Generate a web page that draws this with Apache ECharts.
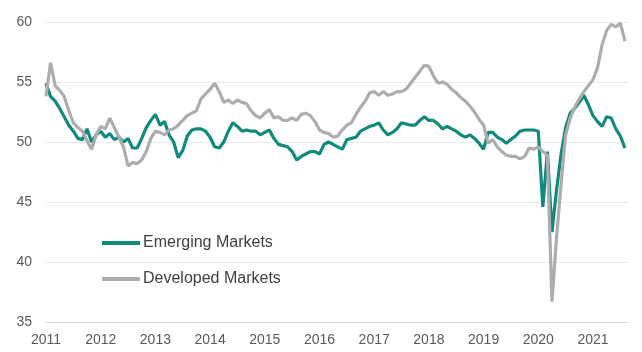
<!DOCTYPE html>
<html>
<head>
<meta charset="utf-8">
<script src="https://cdn.jsdelivr.net/npm/echarts@6/dist/echarts.min.js"></script>
<style>
  html, body { margin: 0; padding: 0; background: #fff; }
  #chart { width: 642px; height: 352px; }
</style>
</head>
<body>
<div id="chart"></div>
<script>
// monthly readings, Jan 2011 - Aug 2021
const startYear = 2011;
const yTicks = [35, 40, 45, 50, 55, 60];
const seriesNames = ['Emerging Markets', 'Developed Markets'];

const emerging = [
  54.9, 53.8, 53.4, 52.8, 52.1, 51.4, 50.9, 50.3, 50.2, 51.1, 50.0, 50.6, // 2011
  50.9, 50.4, 50.7, 50.2, 50.4, 50.0, 50.3, 49.5, 49.5, 50.3, 51.2, 51.8, // 2012
  52.3, 51.4, 51.7, 50.6, 50.0, 48.7, 49.3, 50.5, 51.0, 51.1, 51.1, 50.9, // 2013
  50.4, 49.6, 49.5, 50.0, 50.9, 51.6, 51.3, 50.9, 51.0, 50.9, 50.9, 50.6, // 2014
  50.8, 51.0, 50.3, 49.8, 49.7, 49.6, 49.2, 48.5, 48.8, 49.0, 49.2, 49.2, // 2015
  49.0, 49.8, 50.0, 49.8, 49.6, 49.4, 50.2, 50.3, 50.4, 50.9, 51.1, 51.3, // 2016
  51.4, 51.6, 51.0, 50.6, 50.8, 51.1, 51.6, 51.5, 51.4, 51.4, 51.8, 52.1, // 2017
  51.8, 51.8, 51.5, 51.1, 51.3, 51.1, 50.9, 50.6, 50.4, 50.6, 50.3, 49.9, // 2018
  49.4, 50.8, 50.8, 50.4, 50.2, 49.9, 50.2, 50.5, 50.9, 51.0, 51.0, 51.0, // 2019
  50.9, 44.6, 49.2, 42.5, 46.0, 49.0, 51.2, 52.4, 52.8, 53.3, 53.9, 53.1, // 2020
  52.2, 51.7, 51.3, 52.1, 52.0, 51.1, 50.5, 49.5                          // 2021
];

const developed = [
  53.8, 56.6, 54.7, 54.3, 53.8, 52.6, 51.6, 51.2, 50.9, 50.1, 49.4, 50.6, // 2011
  51.3, 51.1, 52.0, 51.2, 50.4, 49.6, 48.0, 48.3, 48.2, 48.5, 49.2, 50.3, // 2012
  50.9, 50.8, 50.6, 51.0, 51.1, 51.4, 51.8, 52.2, 52.4, 52.6, 53.6, 54.0, // 2013
  54.4, 54.9, 54.2, 53.3, 53.5, 53.2, 53.5, 53.3, 53.2, 52.6, 52.2, 52.0, // 2014
  52.4, 52.7, 52.0, 52.1, 51.8, 51.8, 52.0, 51.8, 52.3, 52.4, 52.2, 51.7, // 2015
  51.0, 50.8, 50.7, 50.4, 50.5, 51.0, 51.4, 51.6, 52.3, 52.9, 53.4, 54.1, // 2016
  54.2, 53.9, 54.2, 53.9, 54.0, 54.2, 54.2, 54.4, 54.9, 55.4, 55.9, 56.4, // 2017
  56.3, 55.5, 54.9, 55.0, 54.8, 54.4, 54.1, 53.7, 53.4, 53.0, 52.5, 51.9, // 2018
  51.4, 49.9, 50.2, 49.6, 49.2, 48.9, 48.8, 48.8, 48.6, 48.8, 49.5, 49.4, // 2019
  49.6, 49.2, 48.9, 36.7, 42.0, 46.5, 50.6, 52.0, 52.9, 53.6, 54.2, 54.7, // 2020
  55.2, 56.2, 58.1, 59.3, 59.8, 59.6, 59.9, 58.4                          // 2021
];

const colors = ['#108a7b', '#adadad'];
const axisFont = { fontFamily: 'Liberation Sans, Arial, sans-serif', fontSize: 14, color: '#595959' };

// month index -> decimal year
const toPairs = (arr) => arr.map((v, i) => [startYear + i / 12, v]);

const chart = echarts.init(document.getElementById('chart'));

const option = {
  animation: false,
  grid: { left: 46, right: 14, top: 22, bottom: 30 },
  xAxis: {
    type: 'value',
    min: startYear,
    max: 2021.64,
    interval: 1,
    axisLine: { show: true, lineStyle: { color: '#d9d9d9', width: 1 } },
    axisTick: { show: false },
    splitLine: { show: false },
    axisLabel: {
      ...axisFont,
      margin: 11,
      showMaxLabel: false,
      formatter: (v) => String(Math.round(v))
    }
  },
  yAxis: {
    type: 'value',
    min: yTicks[0],
    max: yTicks[yTicks.length - 1],
    interval: 5,
    axisLine: { show: false },
    axisTick: { show: false },
    splitLine: { lineStyle: { color: '#ebebeb', width: 1 } },
    axisLabel: { ...axisFont, margin: 14 }
  },
  legend: {
    orient: 'vertical',
    left: 97,
    top: 230,
    icon: 'rect',
    itemWidth: 38,
    itemHeight: 4,
    itemGap: 20,
    textStyle: { fontFamily: 'Liberation Sans, Arial, sans-serif', fontSize: 16, color: '#404040', padding: [0, 0, 0, -2] },
    data: seriesNames
  },
  series: [
    {
      name: seriesNames[0],
      type: 'line',
      data: toPairs(emerging),
      symbol: 'none',
      lineStyle: { color: colors[0], width: 3.2 },
      itemStyle: { color: colors[0] }
    },
    {
      name: seriesNames[1],
      type: 'line',
      data: toPairs(developed),
      symbol: 'none',
      lineStyle: { color: colors[1], width: 3.2 },
      itemStyle: { color: colors[1] }
    }
  ]
};

chart.setOption(option);
window.addEventListener('resize', () => chart.resize());
</script>
</body>
</html>
